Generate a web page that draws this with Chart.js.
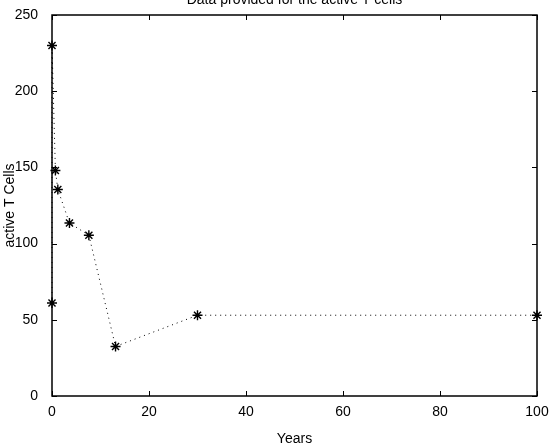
<!DOCTYPE html>
<html>
<head>
<meta charset="utf-8">
<script src="https://cdn.jsdelivr.net/npm/chart.js@4"></script>
<style>
  html, body { margin: 0; padding: 0; background: #fff; }
  #wrap { width: 550px; height: 448px; }
</style>
</head>
<body>
<div id="wrap"><canvas id="tcells"></canvas></div>
<script>
// values
const years  = [0, 0, 0.7, 1.2, 3.6, 7.6, 13.1, 30, 100];
const tcells = [61, 230, 148, 135.5, 113.5, 105.5, 32.5, 53, 53];
const xTicks = [0, 20, 40, 60, 80, 100];
const yTicks = [0, 50, 100, 150, 200, 250];

const font = { family: 'Liberation Sans, Arial, sans-serif', size: 14 };

// box round the plot, short ticks pointing inwards, and the clipped title
const matlabFrame = {
  id: 'matlabFrame',
  beforeDatasetsDraw(chart) {
    const c = chart.ctx, a = chart.chartArea;
    const sx = chart.scales.x, sy = chart.scales.y;
    const len = 5;
    c.save();
    c.strokeStyle = '#000';
    c.lineWidth = 1;
    c.beginPath();
    xTicks.forEach(v => {
      const px = Math.round(sx.getPixelForValue(v)) + 0.5;
      c.moveTo(px, a.bottom); c.lineTo(px, a.bottom - len);
      c.moveTo(px, a.top); c.lineTo(px, a.top + len);
    });
    yTicks.forEach(v => {
      const py = Math.round(sy.getPixelForValue(v)) + 0.5;
      c.moveTo(a.left, py); c.lineTo(a.left + len, py);
      c.moveTo(a.right, py); c.lineTo(a.right - len, py);
    });
    c.stroke();
    c.lineWidth = 1.5;
    c.strokeRect(a.left, a.top, a.right - a.left, a.bottom - a.top);
    c.fillStyle = '#000';
    c.font = font.size + 'px ' + font.family;
    c.textAlign = 'center';
    c.textBaseline = 'alphabetic';
    c.fillText('Data provided for the active T cells', (a.left + a.right) / 2, 4);
    c.restore();
  }
};

new Chart(document.getElementById('tcells'), {
  type: 'line',
  data: {
    datasets: [{
      data: years.map((t, i) => ({ x: t, y: tcells[i] })),
      borderColor: '#000',
      borderWidth: 1,
      borderDash: [1, 4],
      pointStyle: 'star',
      pointRadius: 5,
      pointBorderWidth: 1.4,
      pointBorderColor: '#000',
      pointBackgroundColor: '#000',
      fill: false,
      tension: 0,
      clip: false
    }]
  },
  options: {
    responsive: true,
    maintainAspectRatio: false,
    animation: false,
    layout: { padding: { top: 15, right: 13, left: 0, bottom: 0 } },
    plugins: { legend: { display: false }, tooltip: { enabled: false } },
    scales: {
      x: {
        type: 'linear',
        min: 0, max: 100,
        afterBuildTicks: s => { s.ticks = xTicks.map(v => ({ value: v })); },
        afterFit: s => { s.height = 52; },
        grid: { display: false },
        border: { display: false },
        ticks: { color: '#000', font: font, padding: 0, maxRotation: 0 },
        title: { display: true, text: 'Years', color: '#000', font: font, padding: { top: 10, bottom: 0 } }
      },
      y: {
        type: 'linear',
        min: 0, max: 250,
        afterBuildTicks: s => { s.ticks = yTicks.map(v => ({ value: v })); },
        afterFit: s => { s.width = 52; },
        grid: { display: false },
        border: { display: false },
        ticks: { color: '#000', font: font, padding: 6 },
        title: { display: true, text: 'active T Cells', color: '#000', font: font, padding: { top: 2, bottom: 4 } }
      }
    }
  },
  plugins: [matlabFrame]
});
</script>
</body>
</html>
